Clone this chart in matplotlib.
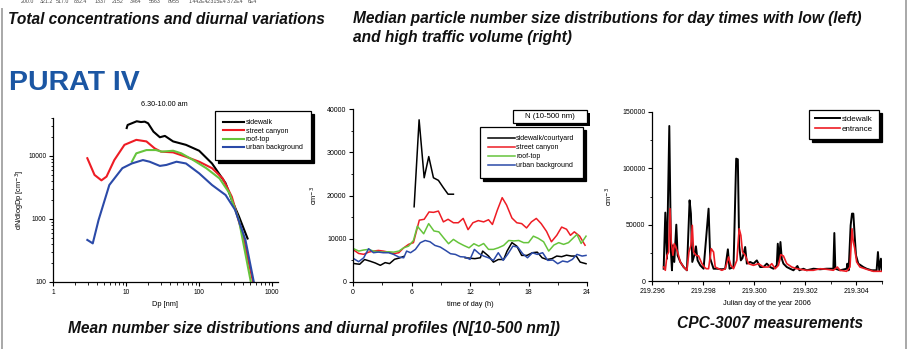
import numpy as np
import matplotlib
matplotlib.use("Agg")
import matplotlib.pyplot as plt
from matplotlib.lines import Line2D
from matplotlib.patches import Rectangle
from matplotlib.ticker import FixedLocator, MultipleLocator, FormatStrFormatter, NullFormatter, LogLocator

plt.rcParams['font.family'] = ['Liberation Sans', 'DejaVu Sans']

nan = np.nan

# ---------------- data ----------------
top_numbers = ["200.0", "321.2", "517.0", "832.4", "1337", "2152", "3464", "5563",
               "8955", "1.442E4", "2.315E4", "3.72E4", "6E4"]

# Panel 1: mean number size distributions (Dp [nm], dN/dlogDp [cm-3])
sw_dp = [10.2, 10.5, 12, 14, 16, 18, 20, 23.7, 29, 34, 44, 66, 100, 150, 230, 280, 350, 460]
sw_n = [27700, 31000, 33000, 35500, 34500, 35000, 33000, 24300, 19800, 20800, 17000, 15000,
        12100, 7600, 3700, 2000, 1100, 490]
sc_dp = [2.95, 3.7, 4.6, 5.4, 6.9, 9.5, 13.8, 19, 24.6, 30, 44, 66, 100, 150, 210, 280, 390, 540, 580]
sc_n = [9200, 5000, 4100, 4700, 8600, 15000, 18000, 17000, 13200, 11700, 11400, 9700, 8100,
        6400, 4400, 2250, 590, 107, 80]
rt_dp = [12, 13.8, 19, 25.6, 31, 44, 57, 83, 125, 190, 260, 350, 510, 550]
rt_n = [8100, 11000, 12400, 12400, 11700, 12100, 11000, 8600, 6400, 4400, 2560, 960, 100, 75]
ub_dp = [2.95, 3.5, 4.2, 5.9, 8.9, 12, 17, 21, 29, 35.6, 49, 66, 100, 150, 230, 310, 430, 560, 600]
ub_n = [465, 410, 960, 3460, 6400, 7600, 8600, 8100, 6950, 7200, 8100, 7600, 5300, 3460, 2400,
        1400, 465, 100, 80]

# Panel 2: diurnal profiles N(10-500 nm) [cm-3]
bk_h = [0.17, 0.68, 1.19, 1.77, 2.28, 2.8, 3.3, 3.75, 4.26, 4.77, 5.25, nan,
        6.27, 6.78, 7.3, 7.77, 8.25, 8.76, 9.27, 9.75, 10.3, nan,
        11.5, 12.0, 12.5, 13.06, 13.3, 13.9, 14.4, 14.9, 15.45, 15.8, 16.3, 16.8, 17.3, 17.85,
        18.4, 18.9, 19.4, 19.9, 20.4, 20.9, 21.4, 21.9, 22.4, 22.9, 23.3, 23.9]
bk_v = [4250, 4100, 5200, 4800, 4400, 3860, 4480, 4250, 5250, 5560, 5950, nan,
        17400, 37500, 24100, 29000, 24100, 23500, 21800, 20300, 20300, nan,
        5600, 5500, 5400, 5600, 7150, 6000, 4600, 5200, 5200, 7150, 9100, 8300, 6150, 6150,
        6770, 6900, 5600, 5200, 5400, 6000, 5850, 6200, 6000, 6000, 4600, 4230]
rd_h = [0.07, 0.58, 1.1, 1.6, 2.1, 2.6, 3.1, 3.66, 4.17, 4.7, 5.2, 5.7, 6.2, 6.8, 7.3, 7.8, 8.25,
        8.76, 9.27, 9.75, 10.3, 10.8, 11.3, 11.8, 12.3, 12.85, 13.4, 13.9, 14.3, 14.8, 15.3, 15.75,
        16.3, 16.8, 17.3, 17.8, 18.3, 18.8, 19.3, 19.85, 20.35, 20.9, 21.4, 21.9, 22.3, 22.7,
        23.25, 23.8]
rd_v = [7400, 6600, 6400, 6900, 7150, 7300, 7150, 6900, 6540, 6770, 7900, 8700, 9100, 14300,
        14500, 16200, 16100, 16400, 13900, 14500, 13700, 13700, 14700, 12100, 13700, 14200, 13900,
        14400, 13300, 16600, 19500, 17800, 14800, 13700, 13500, 12500, 13900, 14700, 13500, 11700,
        9300, 10800, 12700, 12200, 10800, 11600, 10600, 8500]
gr_h = [0.07, 0.58, 1.1, 1.6, 2.1, 2.6, 3.1, 3.66, 4.17, 4.7, 5.2, 5.7, 6.2, 6.6, 7.25, 7.76, 8.3,
        8.8, 9.3, 9.8, 10.3, 10.8, 11.35, 11.9, 12.4, 12.9, 13.4, 13.9, 14.4, 14.9, 15.45, 15.97,
        16.5, 17.0, 17.5, 18.0, 18.5, 19.0, 19.55, 20.07, 20.6, 21.1, 21.6, 22.1, 22.6, 22.97,
        23.4, 23.9]
gr_v = [7700, 7150, 7400, 7540, 7150, 7000, 6900, 7000, 6900, 7150, 7900, 8300, 9600, 12900,
        11150, 13500, 11800, 11600, 10200, 8850, 9850, 9100, 8460, 7900, 8850, 8300, 8900, 7540,
        7540, 7900, 8460, 9600, 9500, 9600, 9100, 9100, 10600, 10100, 9300, 7150, 8540, 9100,
        8700, 9100, 10200, 11000, 8900, 10600]
bl_h = [0.07, 0.58, 1.1, 1.6, 2.1, 2.6, 3.1, 3.66, 4.17, 4.7, 5.2, 5.5, 5.9, 6.4, 6.9, 7.4, 7.9,
        8.4, 8.95, 9.5, 10.0, 10.5, 11.0, 11.5, 12.0, 12.45, 12.95, 13.4, 13.9, 14.4, 14.9, 15.4,
        15.9, 16.4, 16.9, 17.4, 17.9, 18.4, 18.9, 19.45, 19.97, 20.5, 21.0, 21.5, 22.0, 22.5,
        22.97, 23.5, 23.9]
bl_v = [5400, 4700, 5600, 7700, 6770, 6920, 6770, 6770, 6380, 5770, 5600, 7150, 6770, 7540,
        9080, 9600, 9300, 8460, 8080, 7300, 6540, 6380, 5850, 5770, 5230, 7540, 6540, 6000, 5600,
        5000, 6770, 5000, 6540, 8300, 8080, 6540, 5600, 6770, 6380, 6770, 5000, 5080, 4230, 4850,
        4620, 5230, 6380, 6000, 6150]

# Panel 3: CPC-3007 measurements (Julian day, cm-3)
cs_t = [219.296456, 219.296521, 219.296586, 219.296677, 219.296742, 219.296781, 219.296820,
        219.296872, 219.296951, 219.297003, 219.297107, 219.297237, 219.297367, 219.297471,
        219.297523, 219.297576, 219.297654, 219.297719, 219.297784, 219.297888, 219.298018,
        219.298122, 219.298214, 219.298279, 219.298409, 219.298539, 219.298734, 219.298865,
        219.298969, 219.299034, 219.299190, 219.299294, 219.299359, 219.299411, 219.299477,
        219.299542, 219.299646, 219.299711, 219.299841, 219.299971, 219.300102, 219.300232,
        219.300362, 219.300492, 219.300622, 219.300753, 219.300883, 219.300922, 219.300974,
        219.301026, 219.301078, 219.301143, 219.301273, 219.301404, 219.301534, 219.301690,
        219.301768, 219.301924, 219.302055, 219.302315, 219.302576, 219.302836, 219.303096,
        219.303135, 219.303174, 219.303357, 219.303617, 219.303643, 219.303695, 219.303773,
        219.303826, 219.303878, 219.303930, 219.303982, 219.304073, 219.304268, 219.304398,
        219.304594, 219.304789, 219.304841, 219.304893, 219.304958, 219.304997]
cs_sidewalk = [10900, 60700, 19800, 137600, 25700, 9500, 31700, 16900, 50000, 22800, 16900,
               12400, 9500, 71600, 59800, 16900, 22800, 30800, 18300, 13900, 10900, 39100, 64200,
               19800, 10900, 10900, 10400, 10900, 28100, 10900, 12400, 108600, 108000, 31700,
               18300, 20400, 30200, 15400, 16900, 15400, 18300, 12400, 12400, 15400, 12400, 10900,
               13900, 33100, 16900, 34600, 19800, 15400, 12400, 10900, 9500, 13300, 9500, 10900,
               9500, 10900, 10400, 10900, 10900, 42600, 10900, 9500, 10900, 15400, 9500, 49400,
               59800, 59800, 40500, 22800, 15400, 12400, 10900, 9500, 9500, 25700, 9500, 19800,
               9500]
ce_t = [219.296456, 219.296521, 219.296586, 219.296651, 219.296703, 219.296755, 219.296820,
        219.296872, 219.296951, 219.297003, 219.297107, 219.297237, 219.297367, 219.297445,
        219.297523, 219.297576, 219.297628, 219.297719, 219.297823, 219.297953, 219.298044,
        219.298122, 219.298214, 219.298318, 219.298409, 219.298474, 219.298604, 219.298734,
        219.298865, 219.298995, 219.299086, 219.299190, 219.299320, 219.299411, 219.299477,
        219.299542, 219.299646, 219.299776, 219.299971, 219.300167, 219.300362, 219.300557,
        219.300688, 219.300818, 219.300948, 219.301039, 219.301143, 219.301273, 219.301469,
        219.301664, 219.301794, 219.302055, 219.302315, 219.302576, 219.302836, 219.303096,
        219.303253, 219.303357, 219.303617, 219.303747, 219.303826, 219.303878, 219.303930,
        219.304008, 219.304138, 219.304398, 219.304659, 219.304984]
cs_entrance = [12400, 9500, 22800, 25700, 64200, 34600, 22800, 33100, 28700, 25700, 16900,
               12400, 9500, 25700, 31700, 49400, 25700, 22800, 22200, 15400, 12400, 10900, 10900,
               28700, 25700, 12400, 10900, 9500, 10900, 21300, 13900, 10900, 18300, 46400, 40500,
               25700, 22800, 15400, 13900, 15400, 12400, 12400, 15400, 10900, 13900, 23400, 22200,
               15400, 12400, 10900, 10400, 9500, 9500, 10900, 10400, 9500, 12400, 9500, 8600,
               12400, 46400, 34600, 29300, 16900, 12400, 10400, 8600, 8600]

# ---------------- layout helpers ----------------
W, H = 915, 349
fig = plt.figure(figsize=(W / 100, H / 100), dpi=100)
fig.patch.set_facecolor('white')


def fx(x):
    return x / W


def fy(y):
    return 1 - y / H


def ax_px(l, t, r, b):
    return fig.add_axes([fx(l), fy(b), (r - l) / W, (b - t) / H])


RED = '#ee1c24'
GREEN = '#66c43c'
BLUE = '#2b4aa8'

# slide frame lines
fig.add_artist(Line2D([fx(2), fx(2)], [fy(9), fy(349)], color='#a8a8a8', lw=1.4))
fig.add_artist(Line2D([fx(906), fx(906)], [fy(0), fy(349)], color='#a8a8a8', lw=1.4))

# top cut-off table header numbers
num_x = [27, 46, 62, 80, 100, 118, 136, 155, 174, 198, 217, 235, 252]
for xx, s in zip(num_x, top_numbers):
    fig.text(fx(xx), fy(1.5), s, fontsize=3.8, color='#444444', ha='center', va='center')

hfont = dict(fontsize=11.2, fontweight='bold', fontstyle='italic', color='#111111')
fig.text(fx(8), fy(23.5), "Total concentrations and diurnal variations", ha='left', va='baseline', **hfont)
fig.text(fx(353), fy(23.5), "Median particle number size distributions for day times with low (left)",
         ha='left', va='baseline', **hfont)
fig.text(fx(353), fy(42), "and high traffic volume (right)", ha='left', va='baseline', **hfont)
fig.text(fx(9), fy(89.5), "PURAT IV", fontsize=20.5, fontweight='bold', color='#1b56a3',
         ha='left', va='baseline')
fig.text(fx(68), fy(333), "Mean number size distributions and diurnal profiles (N[10-500 nm])",
         ha='left', va='baseline', **hfont)
fig.text(fx(677), fy(328), "CPC-3007 measurements", ha='left', va='baseline', **hfont)


def style_axes(ax, fs):
    for s in ['top', 'right']:
        ax.spines[s].set_visible(False)
    for s in ['left', 'bottom']:
        ax.spines[s].set_linewidth(0.9)
    ax.tick_params(which='major', direction='out', length=3.2, width=0.8, labelsize=fs, pad=1.5)
    ax.tick_params(which='minor', direction='out', length=1.8, width=0.6)
    ax.patch.set_alpha(0)


def shadow_legend(ax, handles, labels, x, y, fs, hl, ls, bp, htp=0.2):
    leg = ax.legend(handles, labels, loc='upper left', bbox_to_anchor=(fx(x), fy(y)),
                    bbox_transform=fig.transFigure, fontsize=fs, frameon=True, fancybox=False,
                    edgecolor='black', framealpha=1,
                    shadow={'color': 'black', 'alpha': 1, 'ox': 2.2, 'oy': -2.2},
                    handlelength=hl, handletextpad=htp, labelspacing=ls, borderpad=bp,
                    borderaxespad=0)
    leg.get_frame().set_linewidth(0.9)
    return leg


# ---------------- panel 1 ----------------
ax1 = ax_px(53, 118, 278, 282)
ax1.set_xscale('log')
ax1.set_yscale('log')
l1, = ax1.plot(sw_dp, sw_n, color='black', lw=1.5)
l2, = ax1.plot(sc_dp, sc_n, color=RED, lw=1.5)
l3, = ax1.plot(rt_dp, rt_n, color=GREEN, lw=1.5)
l4, = ax1.plot(ub_dp, ub_n, color=BLUE, lw=1.5)
ax1.set_xlim(1, 1200)
ax1.set_ylim(100, 40000)
ax1.xaxis.set_major_locator(FixedLocator([1, 10, 100, 1000]))
ax1.set_xticklabels(['1', '10', '100', '1000'])
ax1.xaxis.set_minor_locator(LogLocator(base=10, subs=np.arange(2, 10)))
ax1.xaxis.set_minor_formatter(NullFormatter())
ax1.yaxis.set_major_locator(FixedLocator([100, 1000, 10000]))
ax1.set_yticklabels(['100', '1000', '10000'])
ax1.yaxis.set_minor_locator(LogLocator(base=10, subs=np.arange(2, 10)))
ax1.yaxis.set_minor_formatter(NullFormatter())
style_axes(ax1, 4.7)
ax1.set_xlabel("Dp [nm]", fontsize=5.3)
ax1.xaxis.set_label_coords(0.5, -0.115)
ax1.set_ylabel("dN/dlogDp [cm$^{-3}$]", fontsize=5.3)
ax1.yaxis.set_label_coords(-0.115, 0.5)
fig.text(fx(164), fy(104), "6.30-10.00 am", fontsize=5.2, ha='center', va='center')
shadow_legend(ax1, [l1, l2, l3, l4], ["sidewalk", "street canyon", "roof-top", "urban background"],
              215, 111, 5.0, 3.0, 0.2, 1.2)

# ---------------- panel 2 ----------------
ax2 = ax_px(353, 109, 587, 282)
m1, = ax2.plot(bk_h, bk_v, color='black', lw=1.1)
m2, = ax2.plot(rd_h, rd_v, color=RED, lw=1.1)
m3, = ax2.plot(gr_h, gr_v, color=GREEN, lw=1.1)
m4, = ax2.plot(bl_h, bl_v, color=BLUE, lw=1.1)
ax2.set_xlim(0, 24)
ax2.set_ylim(0, 40000)
ax2.xaxis.set_major_locator(MultipleLocator(6))
ax2.xaxis.set_minor_locator(MultipleLocator(3))
ax2.yaxis.set_major_locator(MultipleLocator(10000))
ax2.yaxis.set_minor_locator(MultipleLocator(5000))
style_axes(ax2, 5.0)
ax2.set_xlabel("time of day (h)", fontsize=5.3)
ax2.xaxis.set_label_coords(0.5, -0.11)
ax2.set_ylabel("cm$^{-3}$", fontsize=5.3)
ax2.yaxis.set_label_coords(-0.14, 0.5)
shadow_legend(ax2, [m1, m2, m3, m4], ["sidewalk/courtyard", "street canyon", "roof-top", "urban background"],
              480, 127, 5.0, 3.8, 0.28, 1.2)
# "N (10-500 nm)" label box with shadow
fig.add_artist(Rectangle((fx(516), fy(126)), (587 - 513) / W, 13 / H, transform=fig.transFigure,
                         facecolor='black', edgecolor='none'))
fig.add_artist(Rectangle((fx(513), fy(123)), (587 - 513) / W, 13 / H, transform=fig.transFigure,
                         facecolor='white', edgecolor='black', lw=0.9))
fig.text(fx(550), fy(116.5), "N (10-500 nm)", fontsize=5.6, ha='center', va='center')

# ---------------- panel 3 ----------------
ax3 = ax_px(652, 112, 882, 281)
n1, = ax3.plot(cs_t, cs_sidewalk, color='black', lw=1.4)
n2, = ax3.plot(ce_t, cs_entrance, color=RED, lw=1.2)
ax3.set_xlim(219.296, 219.305)
ax3.set_ylim(0, 150000)
ax3.xaxis.set_major_locator(MultipleLocator(0.002))
ax3.xaxis.set_minor_locator(MultipleLocator(0.001))
ax3.xaxis.set_major_formatter(FormatStrFormatter('%.3f'))
ax3.yaxis.set_major_locator(MultipleLocator(50000))
ax3.yaxis.set_minor_locator(MultipleLocator(25000))
style_axes(ax3, 5.0)
ax3.set_xlabel("Julian day of the year 2006", fontsize=5.3)
ax3.xaxis.set_label_coords(0.5, -0.11)
ax3.set_ylabel("cm$^{-3}$", fontsize=5.3)
ax3.yaxis.set_label_coords(-0.16, 0.5)
shadow_legend(ax3, [n1, n2], ["sidewalk", "entrance"], 809, 110, 5.8, 3.2, 0.25, 0.7)

fig.savefig("out.png", dpi=100, facecolor='white')
